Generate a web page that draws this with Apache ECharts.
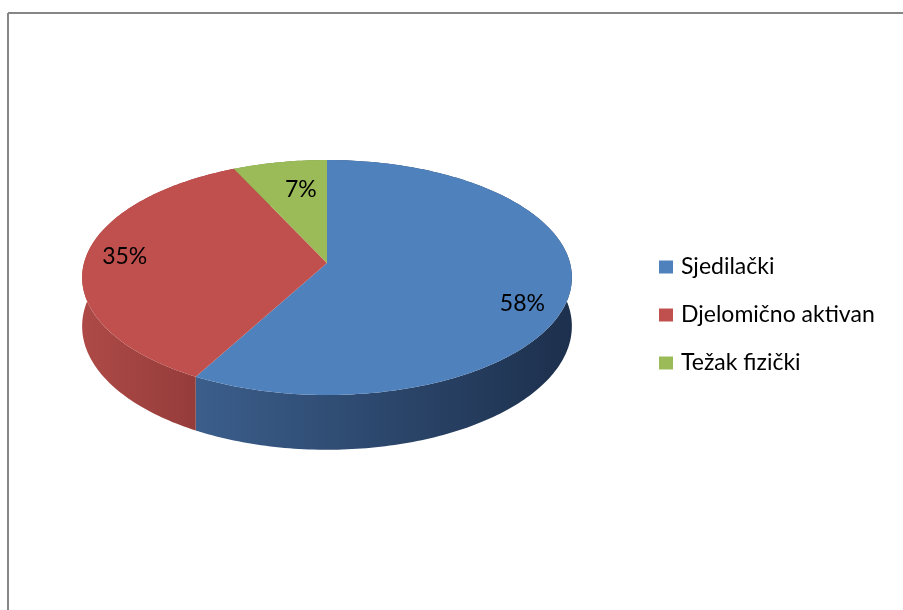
<!DOCTYPE html>
<html>
<head>
<meta charset="utf-8">
<script src="https://cdn.jsdelivr.net/npm/echarts@6/dist/echarts.min.js"></script>
<style>
html,body{margin:0;padding:0;background:#fff;}
#chart{width:903px;height:610px;}
</style>
</head>
<body>
<div id="chart"></div>
<script>
// ---- data ----
const categories = ['Sjedilački', 'Djelomično aktivan', 'Težak fizički'];
const shares = [58, 35, 7];

// ---- styling / layout ----
const topColors = ['#4f81bd', '#c0504d', '#9bbb59'];
const sideStops = [
  [{offset: 0, color: '#42699b'}, {offset: 0.23, color: '#3b5e8b'}, {offset: 1, color: '#1d304d'}],
  [{offset: 0, color: '#ad4a47'}, {offset: 0.23, color: '#953c3a'}, {offset: 1, color: '#6a2a29'}],
  [{offset: 0, color: '#8aa84f'}, {offset: 1, color: '#5a6e33'}]
];
const labelPlacement = [{r: 0.84, shift: 9}, {r: 0.84, shift: 2}, {r: 0.70, shift: 3}];
const CX = 327, CY = 263, KX = 243, KZ = 115.7, P = 0.1234, DEPTH = 48;

const total = shares.reduce((a, b) => a + b, 0);
const startAngles = [];
let acc = 0;
shares.forEach(v => { startAngles.push(acc / total * 360); acc += v; });

function proj(r, thetaDeg, drop) {
  const t = thetaDeg * Math.PI / 180;
  const X = r * Math.sin(t), Z = -r * Math.cos(t);
  const w = 1 - P * Z;
  return [CX + KX * X / w, CY + KZ * Z / w + drop / w];
}

function makeRender(i) {
  return function (params, api) {
    const v = api.value(0);
    const a0 = startAngles[i];
    const a1 = a0 + v / total * 360;
    const n = Math.max(2, Math.ceil(a1 - a0));
    const topArc = [], botArc = [];
    for (let k = 0; k <= n; k++) {
      const a = a0 + (a1 - a0) * k / n;
      topArc.push(proj(1, a, 0));
      botArc.push(proj(1, a, DEPTH));
    }
    const sidePts = topArc.concat(botArc.slice().reverse());
    const topPts = [[CX, CY]].concat(topArc);
    const lp = labelPlacement[i];
    const mid = (a0 + a1) / 2 + lp.shift;
    const lpos = proj(lp.r, mid, 0);
    return {
      type: 'group',
      children: [
        {type: 'polygon', z2: 1, shape: {points: sidePts},
          style: {fill: new echarts.graphic.LinearGradient(CX - KX, 0, CX + KX, 0, sideStops[i], true)}},
        {type: 'polygon', z2: 10, shape: {points: topPts}, style: {fill: topColors[i]}},
        {type: 'text', z2: 20, style: {text: v + '%', x: lpos[0], y: lpos[1],
          font: '23px Lato', fill: '#000', align: 'center', verticalAlign: 'middle'}}
      ]
    };
  };
}

const chart = echarts.init(document.getElementById('chart'), null, {renderer: 'canvas'});
chart.setOption({
  backgroundColor: '#fff',
  animation: false,
  legend: {
    orient: 'vertical', left: 659, top: 255, padding: 0,
    itemWidth: 14, itemHeight: 13, itemGap: 24, icon: 'rect',
    textStyle: {fontFamily: 'Lato', fontSize: 23, color: '#000', lineHeight: 24, padding: [0, 0, 0, 3]},
    data: categories
  },
  graphic: [
    {type: 'line', shape: {x1: 8, y1: 13, x2: 903, y2: 13}, style: {stroke: '#868686', lineWidth: 2}},
    {type: 'line', shape: {x1: 8, y1: 13, x2: 8, y2: 610}, style: {stroke: '#868686', lineWidth: 2}}
  ],
  series: categories.map((name, i) => ({
    type: 'custom',
    name: name,
    coordinateSystem: 'none',
    itemStyle: {color: topColors[i]},
    renderItem: makeRender(i),
    data: [[shares[i]]]
  }))
});
</script>
</body>
</html>
